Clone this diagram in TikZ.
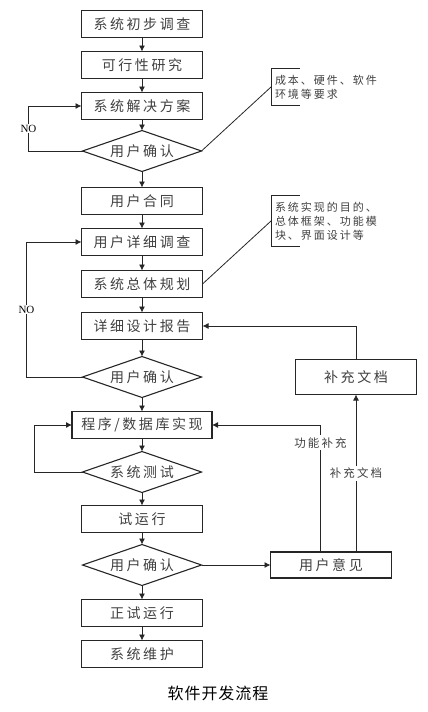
\documentclass[tikz,border=0pt]{standalone}
\usepackage{fontspec}
\setmainfont{Liberation Serif}
\newfontfamily\cjk[LetterSpace=18]{Noto Sans CJK SC}
\newfontfamily\cjktitle[LetterSpace=6]{Noto Sans CJK SC}
\usetikzlibrary{arrows.meta, positioning, shapes.geometric}
\tikzset{%
	stepbox/.style={
		rectangle,
		draw=black!85,
		line width=1.1pt,
		minimum width=121pt,
		minimum height=27pt,
		inner sep=0pt,
		outer sep=0pt,
		text=black!75,
		font=\cjk\fontsize{14pt}{16pt}\selectfont
	},
	check/.style={
		diamond,
		draw=black!85,
		line width=1.1pt,
		aspect=2.902,
		minimum width=119pt,
		minimum height=41pt,
		inner sep=0pt,
		outer sep=0pt,
		text=black!75,
		font=\cjk\fontsize{14pt}{16pt}\selectfont
	},
	note/.style={
		align=left,
		inner xsep=4pt,
		inner ysep=6pt,
		outer sep=0pt,
		text=black!75,
		font=\cjk\fontsize{11pt}{14pt}\selectfont
	},
	lbl/.style={
		fill=white,
		inner sep=2pt,
		text=black!75,
		font=\cjk\fontsize{11.5pt}{13pt}\selectfont
	},
	flow/.style={
		-{Latex[length=6pt,width=6pt]},
		line width=0.8pt,
		draw=black!85
	},
}
\begin{document}
\begin{tikzpicture}[
				x=1pt, y=-1pt,
				node distance=14pt
				]
				\useasboundingbox (0,0) rectangle (428,712);
				% main column
				\node[stepbox] (p1) at (142,24) {系统初步调查};
				\node[stepbox, below=of p1] (p2) {可行性研究};
				\node[stepbox, below=of p2] (p3) {系统解决方案};
				\node[check, below=11pt of p3] (d1) {用户确认};
				\node[stepbox, below=16pt of d1] (p4) {用户合同};
				\node[stepbox, below=of p4] (p5) {用户详细调查};
				\node[stepbox, below=15pt of p5] (p6) {系统总体规划};
				\node[stepbox, below=15pt of p6] (p7) {详细设计报告};
				\node[check, below=17pt of p7] (d2) {用户确认};
				\node[stepbox, minimum width=140pt, below=of d2] (p8) {程序/数据库实现};
				\node[check, below=13pt of p8] (d3) {系统测试};
				\node[stepbox, below=13pt of d3] (p9) {试运行};
				\node[check, below=12pt of p9] (d4) {用户确认};
				\node[stepbox, below=of d4] (p10) {正试运行};
				\node[stepbox, below=of p10] (p11) {系统维护};
				
				% right side
				\node[stepbox, minimum height=35pt, right=94pt of d2] (bc) {补充文档};
				\node[stepbox, minimum height=26pt, right=69pt of d4] (yj) {用户意见};
				\node[note, anchor=west] (n1) at (271,87) {成本、硬件、软件\\环境等要求};
				\node[note, anchor=west] (n2) at (271,221) {系统实现的目的、\\总体框架、功能模\\块、界面设计等};
				
				\node[font=\cjktitle\fontsize{16pt}{18pt}\selectfont] (title) at (218,693) {软件开发流程};
				
				% flow
				\draw[flow] (p1) -- (p2);
				\draw[flow] (p2) -- (p3);
				\draw[flow] (p3) -- (d1);
				\draw[flow] (d1) -- (p4);
				\draw[flow] (p4) -- (p5);
				\draw[flow] (p5) -- (p6);
				\draw[flow] (p6) -- (p7);
				\draw[flow] (p7) -- (d2);
				\draw[flow] (d2) -- (p8);
				\draw[flow] (p8) -- (d3);
				\draw[flow] (d3) -- (p9);
				\draw[flow] (p9) -- (d4);
				\draw[flow] (d4) -- (p10);
				\draw[flow] (p10) -- (p11);
				
				% loops back
				\draw[flow] (d1.west) -- ++(-54,0) |- node[pos=0.25, fill=white, inner sep=1pt, font=\fontsize{11pt}{12pt}\selectfont] {NO} (p3.west);
				\draw[flow] (d2.west) -- ++(-56,0) |- node[pos=0.25, fill=white, inner sep=1pt, font=\fontsize{11pt}{12pt}\selectfont] {NO} (p5.west);
				\draw[flow] (d3.west) -- ++(-48,0) |- (p8.west);
				
				% feedback
				\draw[flow] (d4.east) -- (yj.west);
				\draw[flow] (yj.north -| bc.south) -- node[lbl] {补充文档} (bc.south);
				\coordinate (gn) at ([xshift=50pt]yj.north west);
				\draw[flow] (gn) |- node[lbl, pos=0.43] {功能补充} (p8.east);
				\draw[flow] (bc.north) |- (p7.east);
				
				% notes
				\draw[line width=1pt, draw=black!85] ([xshift=29pt]n1.north west) -| (n1.south west) -- ([xshift=29pt]n1.south west);
				\draw[line width=0.8pt, draw=black!85] (d1.east) -- (n1.west);
				\draw[line width=1pt, draw=black!85] ([xshift=29pt]n2.north west) -| (n2.south west) -- ([xshift=29pt]n2.south west);
				\draw[line width=0.8pt, draw=black!85] (p6.east) -- (n2.west);
			\end{tikzpicture}
\end{document}
